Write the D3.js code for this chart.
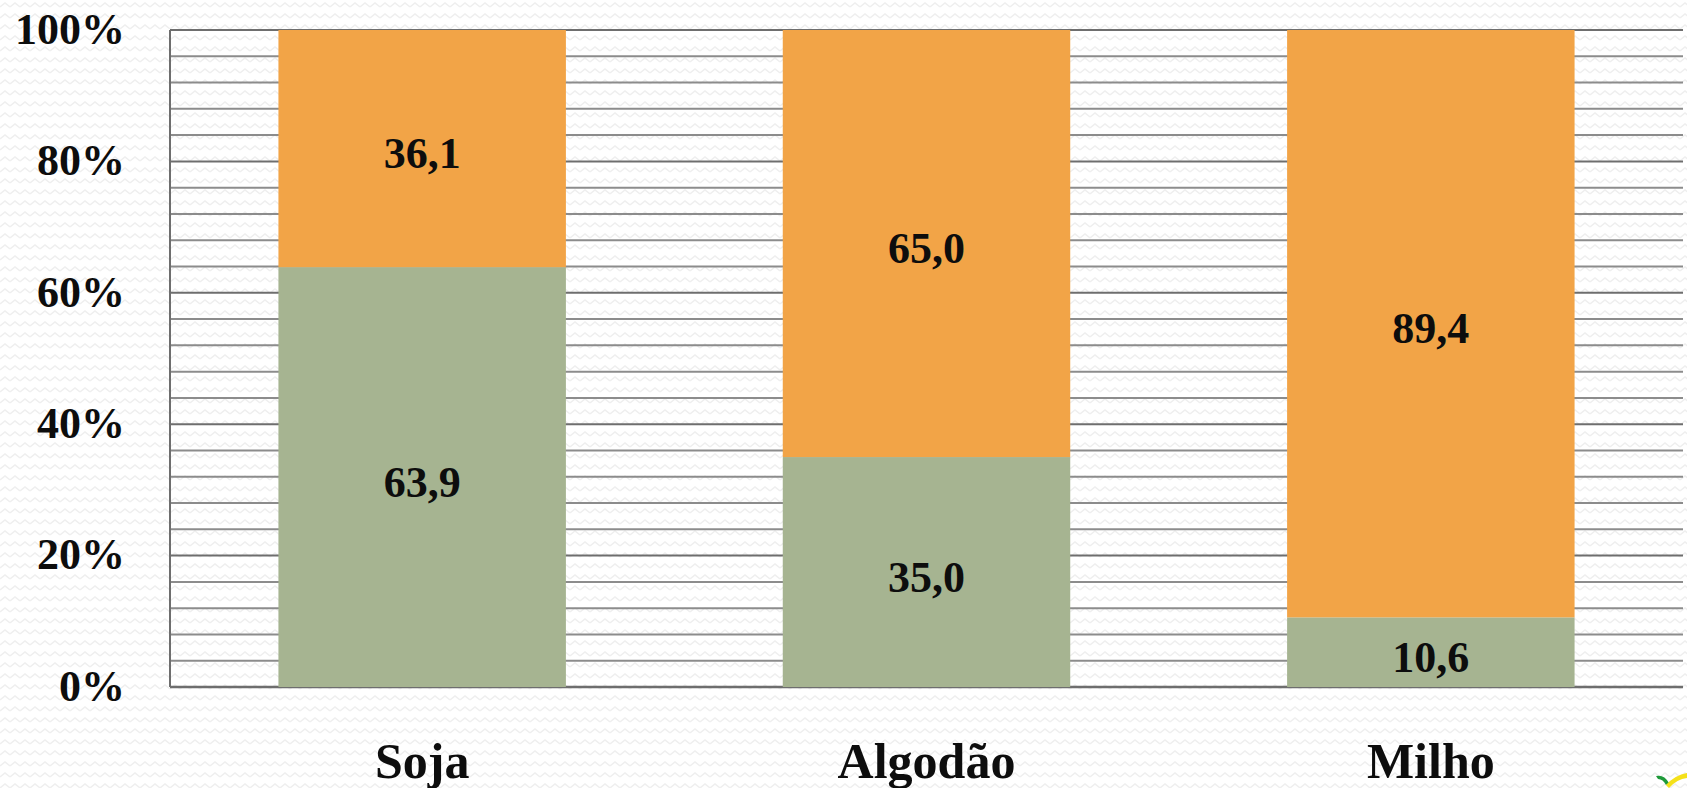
<!DOCTYPE html>
<html>
  <head>
    <script src="https://d3js.org/d3.v7.min.js"></script>
    <style>
      body { margin: 0; background: #ffffff; }
      text { font-family: "Liberation Serif", "DejaVu Serif", serif; font-weight: bold; fill: #0d0d0d; }
    </style>
  </head>
  <body>
    <svg id="chart" width="1687" height="788"></svg>
    <script>
      // data (percent of each crop)
      var categories = ["Soja", "Algodão", "Milho"];
      var greenShare = [63.9, 35.0, 10.6];
      var orangeShare = [36.1, 65.0, 89.4];
      var majorTicks = [0, 20, 40, 60, 80, 100];
      var minorTicks = d3.range(0, 101, 4);

      var colors = { green: "#a6b491", orange: "#f2a447" };

      var svg = d3.select("#chart");
      var W = +svg.attr("width"), H = +svg.attr("height");
      var plotLeft = 170, plotRight = 1683, plotTop = 30, plotBottom = 687;

      // faint zig-zag background
      var defs = svg.append("defs");
      var pat = defs.append("pattern")
        .attr("id", "zig").attr("patternUnits", "userSpaceOnUse")
        .attr("width", 10).attr("height", 11);
      pat.append("polyline")
        .attr("points", "0,7 5,3 10,7")
        .attr("fill", "none").attr("stroke", "#efefef").attr("stroke-width", 1.6);
      svg.append("rect").attr("width", W).attr("height", H).attr("fill", "#fff");
      svg.append("rect").attr("width", W).attr("height", H).attr("fill", "url(#zig)");

      var x = d3.scaleBand().domain(categories).range([plotLeft, plotRight])
        .paddingInner(0.43).paddingOuter(0.215);
      var y = d3.scaleLinear().domain([0, 100]).range([plotBottom, plotTop]);

      // gridlines
      svg.append("g").selectAll("line").data(minorTicks).enter().append("line")
        .attr("x1", plotLeft).attr("x2", plotRight)
        .attr("y1", d => y(d)).attr("y2", d => y(d))
        .attr("stroke", d => (d % 20 === 0 ? "#6e6e6e" : "#8c8c8c"))
        .attr("stroke-width", d => (d === 0 ? 2.5 : 2));

      // stacked bars
      var rows = categories.map((c, i) => ({ cat: c, green: greenShare[i], orange: orangeShare[i] }));
      var stack = d3.stack().keys(["green", "orange"])(rows);

      var layers = svg.append("g").selectAll("g").data(stack).enter().append("g")
        .attr("fill", d => colors[d.key]);
      layers.selectAll("rect").data(d => d).enter().append("rect")
        .attr("x", d => x(d.data.cat))
        .attr("width", x.bandwidth())
        .attr("y", d => y(d[1]))
        .attr("height", d => y(d[0]) - y(d[1]));

      // value labels
      var fmt = v => d3.format(".1f")(v).replace(".", ",");
      layers.selectAll("text").data(d => d.map(p => ({ p: p, key: d.key }))).enter().append("text")
        .attr("x", d => x(d.p.data.cat) + x.bandwidth() / 2)
        .attr("y", d => y((d.p[0] + d.p[1]) / 2))
        .attr("dy", "0.45em")
        .attr("text-anchor", "middle")
        .style("font-size", "44px")
        .style("fill", "#0d0d0d")
        .text(d => fmt(d.p.data[d.key]));

      // left axis line
      svg.append("line").attr("x1", plotLeft).attr("x2", plotLeft).attr("y1", plotTop).attr("y2", plotBottom)
        .attr("stroke", "#6e6e6e").attr("stroke-width", 2);

      // y tick labels
      var yAxis = d3.axisLeft(y).tickValues(majorTicks).tickSize(0).tickPadding(45)
        .tickFormat(d => d + "%");
      var gy = svg.append("g").attr("transform", "translate(" + plotLeft + ",0)").call(yAxis);
      gy.select(".domain").remove();
      gy.selectAll("text")
        .attr("dy", "0.3em")
        .style("font-family", "Liberation Serif, serif")
        .style("font-weight", "bold")
        .style("font-size", "44px")
        .style("fill", "#0d0d0d");

      // category labels
      svg.append("g").selectAll("text").data(categories).enter().append("text")
        .attr("x", d => x(d) + x.bandwidth() / 2)
        .attr("y", 778)
        .attr("text-anchor", "middle")
        .style("font-size", "50px")
        .text(d => d);

      // small logo mark, bottom right
      var logo = svg.append("g").attr("transform", "translate(1656,772)");
      logo.append("path").attr("d", "M0,4 Q8,2 13,11 L10,13 Q7,7 2,7 Z").attr("fill", "#1f9a3a");
      logo.append("path").attr("d", "M10,13 Q19,3 31,1 L31,6 Q21,7 13,16 Z").attr("fill", "#f5e11a");
    </script>
  </body>
</html>
